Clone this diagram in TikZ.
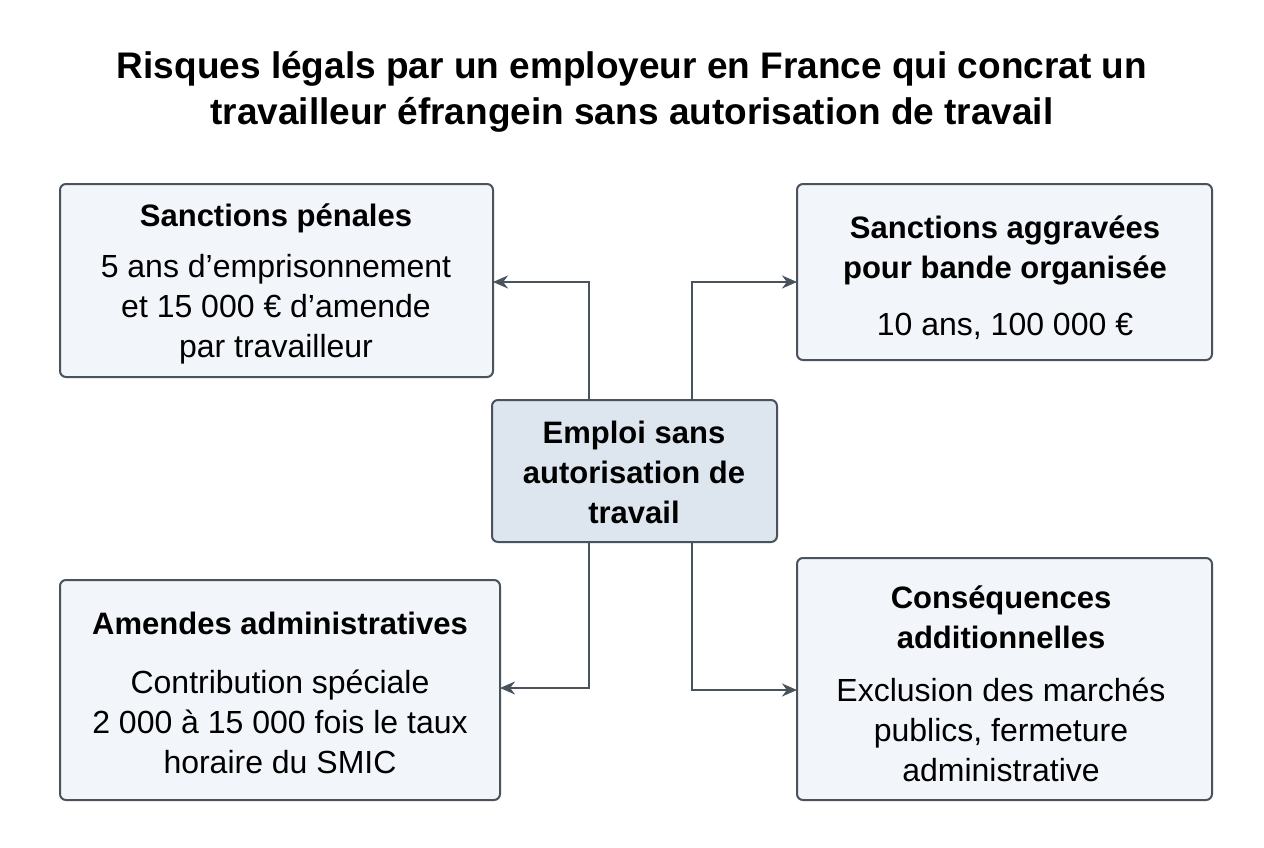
\documentclass[tikz,border=0pt]{standalone}
\usepackage{fontspec}
\setmainfont{Liberation Sans}
\usetikzlibrary{arrows.meta}
\definecolor{bord}{HTML}{4A525C}
\definecolor{boxf}{HTML}{F2F5F9}
\definecolor{cenf}{HTML}{DDE5EE}
\tikzset{
 box/.style={draw=bord,line width=2pt,fill=boxf,rounded corners=6pt,align=center,inner sep=0pt},
 conn/.style={draw=bord,line width=2pt,-{Stealth[length=15pt,width=13pt]}},
 hd/.style={font=\fontsize{31}{40}\selectfont\bfseries},
 bd/.style={font=\fontsize{32}{40}\selectfont}
}
\begin{document}
\begin{tikzpicture}[x=1pt,y=-1pt]
\useasboundingbox (0,0) rectangle (1264,848);
\node[font=\fontsize{37}{46}\selectfont\bfseries,align=center] (title) at (632,92) {Risques légals par un employeur en France qui concrat un\\travailleur éfrangein sans autorisation de travail};
\path[box] (60,184) rectangle (493,377); \coordinate (tl) at (493,282);
\node[hd] (tlh) at (276,218) {Sanctions pénales};
\node[bd,align=center] (tlb) at (276,309) {5 ans d’emprisonnement\\et 15 000 € d’amende\\par travailleur};
\path[box] (797,184) rectangle (1212,360); \coordinate (tr) at (797,282);
\node[hd,align=center] (trh) at (1005,250) {Sanctions aggravées\\pour bande organisée};
\node[bd] (trb) at (1005,326) {10 ans, 100 000 €};
\path[box,fill=cenf] (492,400) rectangle (777,542);
\node[hd,align=center] (c) at (634,472) {Emploi sans\\autorisation de\\travail};
\coordinate (c1) at (589,400); \coordinate (c2) at (692,400);
\coordinate (c3) at (589,542); \coordinate (c4) at (692,542);
\path[box] (60,580) rectangle (500,800); \coordinate (bl) at (500,688);
\node[hd] (blh) at (280,623) {Amendes administratives};
\node[bd,align=center] (blb) at (280,722) {Contribution spéciale\\2 000 à 15 000 fois le taux\\horaire du SMIC};
\path[box] (797,558) rectangle (1212,800); \coordinate (br) at (797,690);
\node[hd,align=center] (brh) at (1001,617) {Conséquences\\additionnelles};
\node[bd,align=center] (brb) at (1001,730) {Exclusion des marchés\\publics, fermeture\\administrative};
\draw[conn] (c1) |- (tl);
\draw[conn] (c2) |- (tr);
\draw[conn] (c3) |- (bl);
\draw[conn] (c4) |- (br);
\end{tikzpicture}
\end{document}
